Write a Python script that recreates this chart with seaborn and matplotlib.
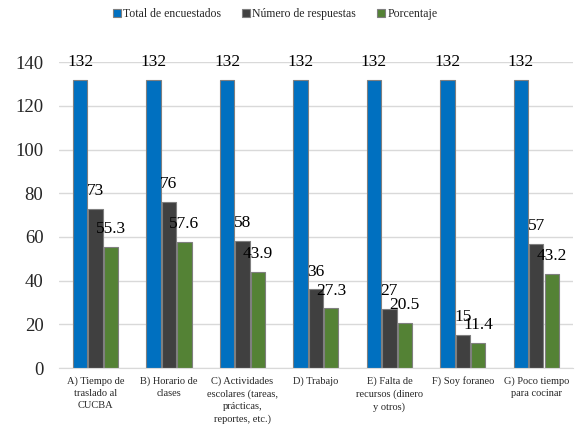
import matplotlib
matplotlib.use("Agg")
import matplotlib.pyplot as plt
import seaborn as sns
import pandas as pd

categories = [
    "A) Tiempo de\ntraslado al\nCUCBA",
    "B) Horario de\nclases",
    "C) Actividades\nescolares (tareas,\nprácticas,\nreportes, etc.)",
    "D) Trabajo",
    "E) Falta de\nrecursos (dinero\ny otros)",
    "F) Soy foraneo",
    "G) Poco tiempo\npara cocinar",
]
series_names = ["Total de encuestados", "Número de respuestas", "Porcentaje"]
total = [132, 132, 132, 132, 132, 132, 132]
respuestas = [73, 76, 58, 36, 27, 15, 57]
porcentaje = [55.3, 57.6, 43.9, 27.3, 20.5, 11.4, 43.2]
yticks = [0, 20, 40, 60, 80, 100, 120, 140]

colors = ["#0070C0", "#404040", "#548235"]

rows = []
for name, vals in zip(series_names, [total, respuestas, porcentaje]):
    for c, v in zip(categories, vals):
        rows.append({"cat": c, "serie": name, "valor": v})
df = pd.DataFrame(rows)

sns.set_style("white")
plt.rcParams["font.family"] = ["Liberation Serif", "DejaVu Serif"]

fig = plt.figure(figsize=(5.76, 4.26), dpi=100)
ax = fig.add_axes([0.102, 0.136, 0.893, 0.718])

sns.barplot(data=df, x="cat", y="valor", hue="serie", order=categories,
            hue_order=series_names, palette=colors, width=0.63, gap=0.08,
            saturation=1, edgecolor="#7f7f7f", linewidth=0.8, ax=ax, legend=True)

ax.set_ylim(0, 140)
ax.set_yticks(yticks)
ax.set_yticklabels([str(t) for t in yticks], fontsize=13.5)
ax.tick_params(axis="y", length=0, pad=11)
ax.set_xticks(range(len(categories)))
ax.set_xticklabels(categories, fontsize=7.5, linespacing=1.45, va="top")
ax.tick_params(axis="x", length=0, pad=6)
ax.set_xlabel("")
ax.set_ylabel("")
ax.grid(axis="y", color="#d9d9d9", linewidth=1)
ax.set_axisbelow(True)
for s in ["left", "right", "top"]:
    ax.spines[s].set_visible(False)
ax.spines["bottom"].set_color("#d9d9d9")
ax.set_xlim(-0.5, len(categories) - 0.5)

for cont in ax.containers:
    for bar, v in zip(cont, cont.datavalues):
        txt = f"{v:g}"
        ax.annotate(txt, (bar.get_x() + bar.get_width() / 2, bar.get_height()),
                    xytext=(0, 10), textcoords="offset points",
                    ha="center", va="baseline", fontsize=12.5, color="black",
                    annotation_clip=False)

handles, labels = ax.get_legend_handles_labels()
ax.get_legend().remove()
fig.legend(handles, labels, loc="center", bbox_to_anchor=(275 / 576, 1 - 14 / 426),
           ncol=3, frameon=False, fontsize=8.5, handlelength=0.7, handleheight=0.7,
           handletextpad=0.15, columnspacing=1.8)

fig.savefig("out.png", dpi=100)
